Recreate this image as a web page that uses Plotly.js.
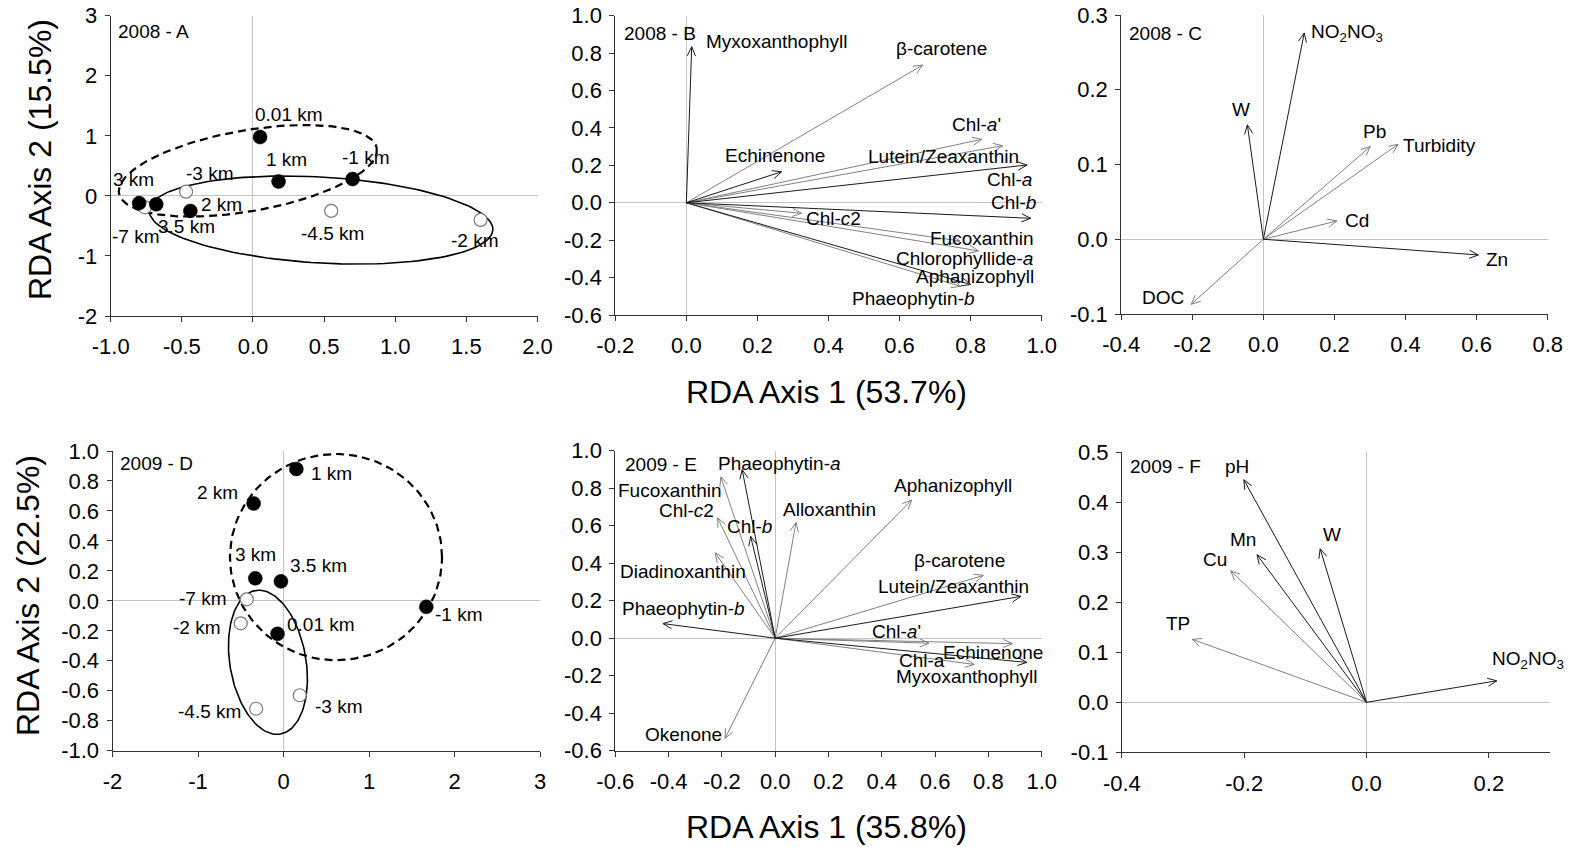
<!DOCTYPE html>
<html><head><meta charset="utf-8">
<script src="https://cdn.plot.ly/plotly-3.0.1.min.js"></script>
<style>html,body{margin:0;padding:0;background:#fff;}#chart{width:1575px;height:847px;}</style>
</head><body><div id="chart"></div>
<script>
// ---------------- DATA ----------------
// Panel A (2008 sites)
const A_sites = ['-7 km','0.01 km','1 km','-1 km','3 km','3.5 km','2 km','-3 km','-4.5 km','-2 km'];
const A_x     = [-0.76, 0.05, 0.18, 0.70, -0.80, -0.68, -0.44, -0.47, 0.55, 1.60];
const A_y     = [-0.19, 0.98, 0.24, 0.28, -0.12, -0.14, -0.25, 0.07, -0.25, -0.40];
const A_fill  = [0, 1, 1, 1, 1, 1, 1, 0, 0, 0];
const A_dashC = [-0.036, 0.418], A_dashU = [0.906, 0.375], A_dashV = [0.049, -0.664];
const A_solC  = [0.478, -0.402], A_solU  = [1.208, -0.166], A_solV  = [-0.018, -0.714];

// Panel B (2008 pigments)
const B_names = ['Myxoxanthophyll','β-carotene',"Chl-<i>a</i>'",'Lutein/Zeaxanthin','Chl-<i>a</i>','Echinenone','Chl-<i>b</i>','Chl-<i>c</i>2','Fucoxanthin','Chlorophyllide-<i>a</i>','Aphanizophyll','Phaeophytin-<i>b</i>'];
const B_x = [0.015, 0.665, 0.831, 0.890, 0.959, 0.268, 0.969, 0.324, 0.770, 0.822, 0.800, 0.772];
const B_y = [0.834, 0.736, 0.339, 0.305, 0.202, 0.166, -0.083, -0.056, -0.204, -0.257, -0.437, -0.447];

// Panel C (2008 environment)
const C_names = ['NO<sub>2</sub>NO<sub>3</sub>','W','Pb','Turbidity','Cd','Zn','DOC'];
const C_x = [0.115, -0.045, 0.301, 0.379, 0.207, 0.605, -0.203];
const C_y = [0.276, 0.153, 0.124, 0.127, 0.0245, -0.021, -0.087];

// Panel D (2009 sites)
const D_sites = ['1 km','2 km','3 km','3.5 km','-1 km','0.01 km','-7 km','-2 km','-3 km','-4.5 km'];
const D_x     = [0.15, -0.35, -0.33, -0.03, 1.67, -0.07, -0.43, -0.50, 0.19, -0.32];
const D_y     = [0.88, 0.65, 0.15, 0.13, -0.04, -0.22, 0.01, -0.15, -0.63, -0.72];
const D_fill  = [1, 1, 1, 1, 1, 1, 0, 0, 0, 0];
const D_dashC = [0.614, 0.292], D_dashU = [1.24, 0.0], D_dashV = [0.0, 0.688];
const D_solC  = [-0.182, -0.41], D_solU  = [0.146, -0.479], D_solV  = [0.438, 0.044];

// Panel E (2009 pigments)
const E_names = ['Phaeophytin-<i>a</i>','Fucoxanthin','Chl-<i>c</i>2','Chl-<i>b</i>','Alloxanthin','Diadinoxanthin','Phaeophytin-<i>b</i>','Okenone','Aphanizophyll','β-carotene','Lutein/Zeaxanthin',"Chl-<i>a</i>'",'Echinenone','Chl-a','Myxoxanthophyll'];
const E_x = [-0.124, -0.204, -0.216, -0.092, 0.078, -0.225, -0.421, -0.188, 0.512, 0.781, 0.922, 0.577, 0.890, 0.747, 0.944];
const E_y = [0.899, 0.860, 0.642, 0.543, 0.617, 0.455, 0.078, -0.534, 0.737, 0.335, 0.223, -0.027, -0.029, -0.140, -0.129];

// Panel F (2009 environment)
const F_names = ['pH','Mn','Cu','W','TP','NO<sub>2</sub>NO<sub>3</sub>'];
const F_x = [-0.2006, -0.179, -0.222, -0.0758, -0.285, 0.213];
const F_y = [0.445, 0.295, 0.263, 0.307, 0.126, 0.043];

// Tick values
const A_xt = [-1.0,-0.5,0.0,0.5,1.0,1.5,2.0], A_yt = [-2,-1,0,1,2,3];
const B_xt = [-0.2,0.0,0.2,0.4,0.6,0.8,1.0], B_yt = [-0.6,-0.4,-0.2,0.0,0.2,0.4,0.6,0.8,1.0];
const C_xt = [-0.4,-0.2,0.0,0.2,0.4,0.6,0.8], C_yt = [-0.1,0.0,0.1,0.2,0.3];
const D_xt = [-2,-1,0,1,2,3], D_yt = [-1.0,-0.8,-0.6,-0.4,-0.2,0.0,0.2,0.4,0.6,0.8,1.0];
const E_xt = [-0.6,-0.4,-0.2,0.0,0.2,0.4,0.6,0.8,1.0], E_yt = [-0.6,-0.4,-0.2,0.0,0.2,0.4,0.6,0.8,1.0];
const F_xt = [-0.4,-0.2,0.0,0.2], F_yt = [-0.1,0.0,0.1,0.2,0.3,0.4,0.5];

// ---------------- LAYOUT / PLACEMENT (not data) ----------------
const A_labX = [-0.819, 0.25, 0.235, 0.794, -0.837, -0.468, -0.222, -0.302, 0.561, 1.56];
const A_labY = [-0.668, 1.347, 0.598, 0.642, 0.281, -0.513, -0.14, 0.376, -0.623, -0.735];
const B_labX = [0.255, 0.718, 0.817, 0.723, 0.910, 0.25, 0.920, 0.413, 0.831, 0.784, 0.812, 0.639];
const B_labY = [0.861, 0.826, 0.416, 0.246, 0.126, 0.255, 0.0, -0.083, -0.19, -0.297, -0.395, -0.51];
const B_shade = [1,0,0,0,1,1,1,0,0,0,1,0];
const C_labX = [0.2355, -0.062, 0.312, 0.495, 0.264, 0.658, -0.281];
const C_labY = [0.276, 0.173, 0.144, 0.125, 0.0245, -0.027, -0.078];
const C_shade = [1,1,0,0,0,1,0];
const D_labX = [0.56, -0.767, -0.329, 0.414, 2.051, 0.443, -0.943, -1.006, 0.653, -0.86];
const D_labY = [0.851, 0.722, 0.312, 0.239, -0.09, -0.157, 0.017, -0.18, -0.702, -0.74];
const E_labX = [0.015, -0.395, -0.332, -0.097, 0.203, -0.345, -0.345, -0.345, 0.666, 0.693, 0.668, 0.456, 0.818, 0.55, 0.718];
const E_labY = [0.933, 0.79, 0.68, 0.595, 0.689, 0.358, 0.156, -0.511, 0.812, 0.413, 0.275, 0.035, -0.075, -0.118, -0.205];
const E_shade = [1,0,0,1,0,0,1,0,0,0,1,0,0,0,1];
const F_labX = [-0.212, -0.202, -0.247, -0.057, -0.308, 0.264];
const F_labY = [0.471, 0.325, 0.286, 0.335, 0.157, 0.085];
const F_shade = [1,1,0,1,0,1];

const W = 1575, H = 847;
const FONT = 'Liberation Sans, Arial, sans-serif';
const DARK = '#1a1a1a', GRAY = '#808080';

// pixel boxes [left, right, top, bottom]
const panels = [
  {k:'', box:[110.7,537.5,15.7,316], xr:[-1,2], yr:[-2,3], xt:A_xt, yt:A_yt, xd:1, yd:0, tag:'2008 - A', tagx:-0.963, tagy:2.73},
  {k:'2', box:[615.3,1041.7,15.7,315], xr:[-0.2,1.0], yr:[-0.6,1.0], xt:B_xt, yt:B_yt, xd:1, yd:1, tag:'2008 - B', tagx:-0.182, tagy:0.906},
  {k:'3', box:[1121.2,1547.7,15,314], xr:[-0.4,0.8], yr:[-0.1,0.3], xt:C_xt, yt:C_yt, xd:1, yd:1, tag:'2008 - C', tagx:-0.383, tagy:0.2756},
  {k:'4', box:[112.5,540,451,750.7], xr:[-2,3], yr:[-1,1], xt:D_xt, yt:D_yt, xd:0, yd:1, tag:'2009 - D', tagx:-1.937, tagy:0.918},
  {k:'5', box:[615.3,1041.7,450.7,750.7], xr:[-0.6,1.0], yr:[-0.6,1.0], xt:E_xt, yt:E_yt, xd:1, yd:1, tag:'2009 - E', tagx:-0.57, tagy:0.924},
  {k:'6', box:[1121.9,1550,452.3,752.3], xr:[-0.4,0.3], yr:[-0.1,0.5], xt:F_xt, yt:F_yt, xd:1, yd:1, tag:'2009 - F', tagx:-0.39, tagy:0.4726}
];

const layout = {
  width: W, height: H, margin:{l:0,r:0,t:0,b:0,pad:0},
  paper_bgcolor:'#fff', plot_bgcolor:'rgba(0,0,0,0)', showlegend:false,
  font:{family:FONT, color:'#000'},
  annotations: [], shapes: []
};
const data = [];

panels.forEach(p => {
  const b = p.box;
  const xa = 'xaxis' + p.k, ya = 'yaxis' + p.k;
  const common = {
    tickmode:'array', ticks:'outside', ticklen:5, tickwidth:1, tickcolor:'#333',
    showline:true, linecolor:'#333', linewidth:1, showgrid:false,
    zeroline:true, zerolinecolor:'#c4c4c4', zerolinewidth:1, fixedrange:true,
    tickfont:{family:FONT, size:22, color:'#000'}
  };
  layout[xa] = Object.assign({}, common, {
    domain:[b[0]/W, b[1]/W], range:p.xr, anchor:'y'+p.k,
    tickvals:p.xt, ticktext:p.xt.map(v=>v.toFixed(p.xd)), ticklabelstandoff:6
  });
  layout[ya] = Object.assign({}, common, {
    domain:[1-b[3]/H, 1-b[2]/H], range:p.yr, anchor:'x'+p.k,
    tickvals:p.yt, ticktext:p.yt.map(v=>v.toFixed(p.yd)), ticklabelstandoff:3
  });
  layout.annotations.push({xref:'x'+p.k, yref:'y'+p.k, x:p.tagx, y:p.tagy, text:p.tag,
    showarrow:false, xanchor:'left', yanchor:'middle', font:{size:19, family:FONT, color:'#000'}});
});

function ellipse(c,u,v){
  const xs=[], ys=[];
  for(let i=0;i<=144;i++){ const t=2*Math.PI*i/144;
    xs.push(c[0]+u[0]*Math.cos(t)+v[0]*Math.sin(t));
    ys.push(c[1]+u[1]*Math.cos(t)+v[1]*Math.sin(t)); }
  return {xs, ys};
}

function sitePanel(p, xs, ys, fill, sites, labX, labY, dC,dU,dV, sC,sU,sV){
  const xr='x'+p.k, yr='y'+p.k;
  const e1 = ellipse(dC,dU,dV), e2 = ellipse(sC,sU,sV);
  data.push({type:'scatter', mode:'lines', x:e2.xs, y:e2.ys, xaxis:xr, yaxis:yr,
    line:{color:'#000', width:1.6}, hoverinfo:'skip', cliponaxis:false});
  data.push({type:'scatter', mode:'lines', x:e1.xs, y:e1.ys, xaxis:xr, yaxis:yr,
    line:{color:'#000', width:2.2, dash:'8px,5px'}, hoverinfo:'skip', cliponaxis:false});
  const ox=[], oy=[], fx=[], fy=[];
  xs.forEach((v,i)=>{ if(fill[i]){fx.push(v); fy.push(ys[i]);} else {ox.push(v); oy.push(ys[i]);} });
  data.push({type:'scatter', mode:'markers', x:ox, y:oy, xaxis:xr, yaxis:yr,
    marker:{size:13, color:'#fff', line:{color:'#7a7a7a', width:1.2}}, hoverinfo:'skip', cliponaxis:false});
  data.push({type:'scatter', mode:'markers', x:fx, y:fy, xaxis:xr, yaxis:yr,
    marker:{size:14, color:'#000', line:{color:'#000', width:0.5}}, hoverinfo:'skip', cliponaxis:false});
  sites.forEach((s,i)=>{
    layout.annotations.push({xref:xr, yref:yr, x:labX[i], y:labY[i], text:s, showarrow:false,
      xanchor:'center', yanchor:'middle', font:{size:19, family:FONT, color:'#000'}});
  });
}

function vectorPanel(p, xs, ys, names, labX, labY, shade){
  const xr='x'+p.k, yr='y'+p.k, b=p.box;
  const kx=(b[1]-b[0])/(p.xr[1]-p.xr[0]), ky=(b[3]-b[2])/(p.yr[1]-p.yr[0]);
  const g = {0:{x:[],y:[]}, 1:{x:[],y:[]}};
  const L=10, a=0.42;
  xs.forEach((x,i)=>{
    const y=ys[i], grp=g[shade[i]];
    const ang=Math.atan2(y*ky, x*kx);
    const h1x=x-L*Math.cos(ang+a)/kx, h1y=y-L*Math.sin(ang+a)/ky;
    const h2x=x-L*Math.cos(ang-a)/kx, h2y=y-L*Math.sin(ang-a)/ky;
    grp.x.push(0,x,null,h1x,x,h2x,null);
    grp.y.push(0,y,null,h1y,y,h2y,null);
  });
  [[0,GRAY],[1,DARK]].forEach(([s,c])=>{
    data.push({type:'scatter', mode:'lines', x:g[s].x, y:g[s].y, xaxis:xr, yaxis:yr,
      line:{color:c, width:1}, hoverinfo:'skip', cliponaxis:false, connectgaps:false});
  });
  names.forEach((n,i)=>{
    layout.annotations.push({xref:xr, yref:yr, x:labX[i], y:labY[i], text:n, showarrow:false,
      xanchor:'center', yanchor:'middle', font:{size:19, family:FONT, color:'#000'}});
  });
}

sitePanel(panels[0], A_x, A_y, A_fill, A_sites, A_labX, A_labY, A_dashC,A_dashU,A_dashV, A_solC,A_solU,A_solV);
vectorPanel(panels[1], B_x, B_y, B_names, B_labX, B_labY, B_shade);
vectorPanel(panels[2], C_x, C_y, C_names, C_labX, C_labY, C_shade);
sitePanel(panels[3], D_x, D_y, D_fill, D_sites, D_labX, D_labY, D_dashC,D_dashU,D_dashV, D_solC,D_solU,D_solV);
vectorPanel(panels[4], E_x, E_y, E_names, E_labX, E_labY, E_shade);
vectorPanel(panels[5], F_x, F_y, F_names, F_labX, F_labY, F_shade);

// Axis titles (paper coordinates)
const titleFont = {size:32, family:FONT, color:'#000'};
layout.annotations.push(
  {xref:'paper', yref:'paper', x:40/W, y:1-160/H, text:'RDA Axis 2 (15.5%)', textangle:-90, showarrow:false, xanchor:'center', yanchor:'middle', font:titleFont},
  {xref:'paper', yref:'paper', x:826/W, y:1-392/H, text:'RDA Axis 1 (53.7%)', showarrow:false, xanchor:'center', yanchor:'middle', font:titleFont},
  {xref:'paper', yref:'paper', x:28/W, y:1-596/H, text:'RDA Axis 2 (22.5%)', textangle:-90, showarrow:false, xanchor:'center', yanchor:'middle', font:titleFont},
  {xref:'paper', yref:'paper', x:827/W, y:1-827/H, text:'RDA Axis 1 (35.8%)', showarrow:false, xanchor:'center', yanchor:'middle', font:titleFont}
);

Plotly.newPlot('chart', data, layout, {staticPlot:true, displayModeBar:false});
</script></body></html>
